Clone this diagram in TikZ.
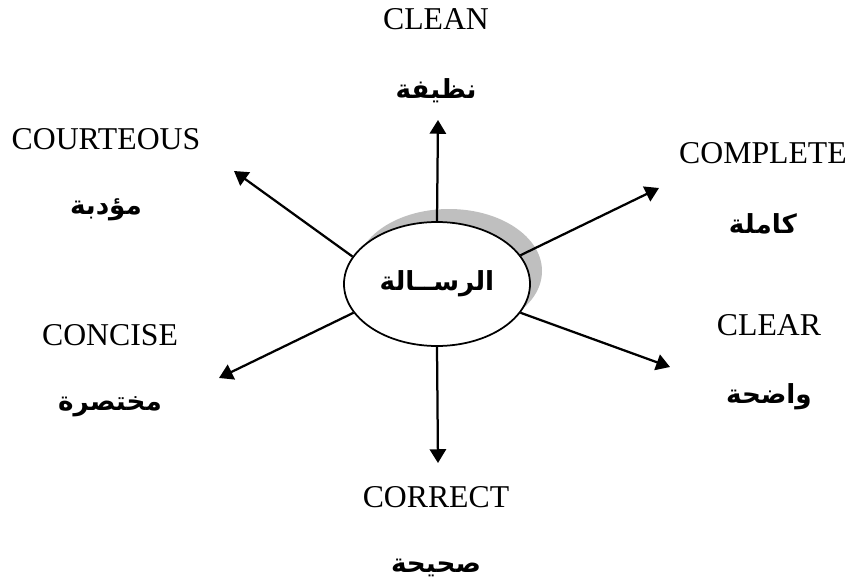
\documentclass[tikz,border=0pt]{standalone}
\usepackage{fontspec}
\setmainfont{Liberation Serif}
\newfontfamily\arabicfont[Script=Arabic]{DejaVu Sans}
\TeXXeTstate=1
\usetikzlibrary{arrows.meta,shapes.geometric,positioning}

\begin{document}
\begin{tikzpicture}[x=0.4pt,y=-0.4pt,node distance=28.5pt,semithick]
    \tikzstyle{every node}=[font=\fontsize{12.7}{15}\selectfont]
    \tikzstyle{arlabel}=[font=\fontsize{10.5}{13}\selectfont\arabicfont\bfseries]
    \tikzstyle{spoke}=[-{Triangle[length=5.5pt,width=6.5pt]},line width=0.9pt]
    \tikzstyle{bubble}=[ellipse,minimum width=74.4pt,minimum height=49.6pt,inner sep=0pt]

    \useasboundingbox (0,0) rectangle (849,587);

    % message bubble and its grey shade
    \node[bubble,fill=black!25] (shade) at (449,271) {};
    \node[bubble,draw,fill=white,line width=0.7pt,arlabel] (msg) at (437,284) {\beginR الرســالة\endR};

    % english words
    \node (clean) at (436,19) {CLEAN};
    \node (courteous) at (106,139) {COURTEOUS};
    \node (complete) at (763,153) {COMPLETE};
    \node (concise) at (110,335) {CONCISE};
    \node (clear) at (769,325) {CLEAR};
    \node (correct) at (436,497) {CORRECT};

    % arabic words
    \node[arlabel] (cleanar) [below of=clean] {\beginR نظيفة\endR};
    \node[arlabel] (courteousar) [below of=courteous] {\beginR مؤدبة\endR};
    \node[arlabel] (completear) [below of=complete] {\beginR كاملة\endR};
    \node[arlabel] (concisear) [below of=concise] {\beginR مختصرة\endR};
    \node[arlabel] (clearar) [below of=clear] {\beginR واضحة\endR};
    \node[arlabel] (correctar) [below of=correct] {\beginR صحيحة\endR};

    % arrow tips
    \coordinate (tclean) at (438,120);
    \coordinate (tcomplete) at (659,188);
    \coordinate (tclear) at (670,367);
    \coordinate (tcorrect) at (438,463);
    \coordinate (tconcise) at (219,378);
    \coordinate (tcourteous) at (234,171);

    \draw[spoke] (msg.north) -- (tclean);
    \draw[spoke] (msg.19) -- (tcomplete);
    \draw[spoke] (msg.341) -- (tclear);
    \draw[spoke] (msg.south) -- (tcorrect);
    \draw[spoke] (msg.199) -- (tconcise);
    \draw[spoke] (msg.162) -- (tcourteous);
\end{tikzpicture}
\end{document}
